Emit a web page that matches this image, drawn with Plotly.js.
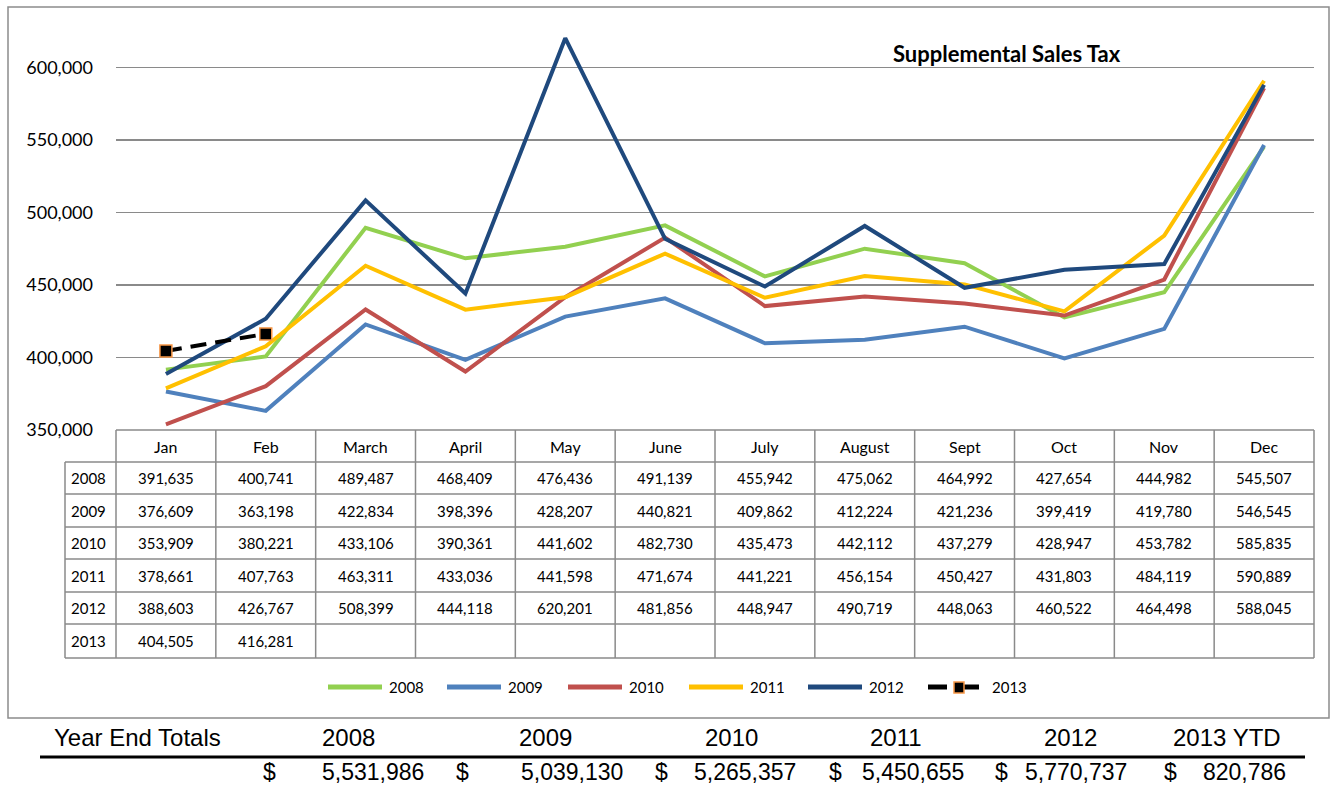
<!DOCTYPE html>
<html>
<head>
<meta charset="utf-8">
<script src="https://cdn.plot.ly/plotly-3.0.1.min.js"></script>
<style>
  html, body { margin: 0; padding: 0; background: #ffffff; }
  #chart { width: 1337px; height: 786px; }
</style>
</head>
<body>
<div id="chart"></div>
<script>
// Monthly supplemental sales tax receipts
const months = ['Jan', 'Feb', 'March', 'April', 'May', 'June', 'July', 'August', 'Sept', 'Oct', 'Nov', 'Dec'];
const years = ['2008', '2009', '2010', '2011', '2012', '2013'];
const totalLabels = ['2008', '2009', '2010', '2011', '2012', '2013 YTD'];

const sales2008 = [391635, 400741, 489487, 468409, 476436, 491139, 455942, 475062, 464992, 427654, 444982, 545507];
const sales2009 = [376609, 363198, 422834, 398396, 428207, 440821, 409862, 412224, 421236, 399419, 419780, 546545];
const sales2010 = [353909, 380221, 433106, 390361, 441602, 482730, 435473, 442112, 437279, 428947, 453782, 585835];
const sales2011 = [378661, 407763, 463311, 433036, 441598, 471674, 441221, 456154, 450427, 431803, 484119, 590889];
const sales2012 = [388603, 426767, 508399, 444118, 620201, 481856, 448947, 490719, 448063, 460522, 464498, 588045];
const sales2013 = [404505, 416281];

// Year end totals as booked (unrounded monthly amounts)
const yearEndTotals = [5531986, 5039130, 5265357, 5450655, 5770737, 820786];

const seriesValues = [sales2008, sales2009, sales2010, sales2011, sales2012, sales2013];
const seriesColors = ['#92D050', '#4F81BD', '#C0504D', '#FFC000', '#1F497D', '#000000'];
const markerBorder = '#F79646';

// Figure geometry (pixels); paper spans x 65..1314, y 32..658
const W = 1337, H = 786;
const PL = 65, PR = 1314, PT = 32, PB = 658;
const px = v => (v - PL) / (PR - PL);
const py = v => (PB - v) / (PB - PT);

const fmt = v => v.toLocaleString('en-US');
const gridGray = '#8A8A8A';
const bodyFont = 'Lato, "Open Sans", sans-serif';

// Line traces
const traces = seriesValues.map((vals, i) => {
  const t = {
    type: 'scatter',
    x: months.slice(0, vals.length),
    y: vals,
    name: years[i],
    mode: 'lines',
    line: { color: seriesColors[i], width: 4 },
    hoverinfo: 'skip',
    showlegend: false
  };
  if (i === 5) {
    t.mode = 'lines+markers';
    t.line = { color: '#000000', width: 4, dash: '16px,9px' };
    t.marker = { symbol: 'square', size: 12, color: '#000000', line: { color: markerBorder, width: 1.5 } };
  }
  return t;
});

const shapes = [];
const annotations = [];

// Outer chart frame
shapes.push({ type: 'rect', xref: 'paper', yref: 'paper', x0: px(8), x1: px(1329), y0: py(7), y1: py(718),
  line: { color: '#8C8C8C', width: 1.5 }, fillcolor: 'rgba(0,0,0,0)' });

// Data table grid
const colLeft = 116, colW = (1314 - 116) / 12;
const rowLines = [430, 462, 494, 527, 559, 592, 624, 658];
rowLines.forEach((y, k) => {
  shapes.push({ type: 'line', xref: 'paper', yref: 'paper', x0: px(k === 0 ? colLeft : 65), x1: px(1314), y0: py(y), y1: py(y),
    line: { color: gridGray, width: 1.5 } });
});
for (let k = 0; k <= 12; k++) {
  const x = colLeft + k * colW;
  shapes.push({ type: 'line', xref: 'paper', yref: 'paper', x0: px(x), x1: px(x), y0: py(430), y1: py(658),
    line: { color: gridGray, width: 1.5 } });
}
shapes.push({ type: 'line', xref: 'paper', yref: 'paper', x0: px(65), x1: px(65), y0: py(462), y1: py(658),
  line: { color: gridGray, width: 1.5 } });

// Month headers
months.forEach((m) => {
  annotations.push({ xref: 'x', yref: 'paper', x: m, y: py(446), text: m, showarrow: false,
    font: { family: bodyFont, size: 16, color: '#000' }, xanchor: 'center', yanchor: 'middle' });
});

// Table body: year label + values
seriesValues.forEach((vals, r) => {
  const yc = py((rowLines[r + 1] + rowLines[r + 2]) / 2);
  annotations.push({ xref: 'paper', yref: 'paper', x: px(88), y: yc, text: years[r], showarrow: false,
    font: { family: bodyFont, size: 15, color: '#000' }, xanchor: 'center', yanchor: 'middle' });
  vals.forEach((v, c) => {
    annotations.push({ xref: 'x', yref: 'paper', x: months[c], y: yc, text: fmt(v), showarrow: false,
      font: { family: bodyFont, size: 15, color: '#000' }, xanchor: 'center', yanchor: 'middle' });
  });
});

// Title
annotations.push({ xref: 'paper', yref: 'paper', x: px(1007), y: py(53), text: '<b>Supplemental Sales Tax</b>',
  showarrow: false, font: { family: bodyFont, size: 22, color: '#000' }, xanchor: 'center', yanchor: 'middle' });

// Legend (drawn manually so the keys have the long line samples)
const legendStart = [328, 447, 568, 689, 808, 928];
const legendY = py(687);
years.forEach((yr, i) => {
  const x0 = legendStart[i];
  const x1 = x0 + (i === 5 ? 51 : 54);
  if (i === 5) {
    shapes.push({ type: 'line', xref: 'paper', yref: 'paper', x0: px(x0), x1: px(x0 + 19), y0: legendY, y1: legendY,
      line: { color: '#000', width: 5 } });
    shapes.push({ type: 'line', xref: 'paper', yref: 'paper', x0: px(x0 + 35), x1: px(x1), y0: legendY, y1: legendY,
      line: { color: '#000', width: 5 } });
    shapes.push({ type: 'rect', xref: 'paper', yref: 'paper', x0: px(x0 + 26), x1: px(x0 + 36), y0: py(693), y1: py(682),
      fillcolor: '#000', line: { color: markerBorder, width: 1.5 } });
  } else {
    shapes.push({ type: 'line', xref: 'paper', yref: 'paper', x0: px(x0), x1: px(x1), y0: legendY, y1: legendY,
      line: { color: seriesColors[i], width: 5 } });
  }
  annotations.push({ xref: 'paper', yref: 'paper', x: px(x1 + (i === 5 ? 11 : 5)), y: legendY, text: yr, showarrow: false,
    font: { family: bodyFont, size: 15, color: '#000' }, xanchor: 'left', yanchor: 'middle' });
});

// Year end totals below the chart
const headFont = { family: '"Liberation Sans", Arial, sans-serif', size: 24, color: '#000' };
const totalFont = { family: '"Liberation Sans", Arial, sans-serif', size: 23, color: '#000' };
annotations.push({ xref: 'paper', yref: 'paper', x: px(52), y: py(738), text: 'Year End Totals', showarrow: false,
  font: headFont, xanchor: 'left', yanchor: 'middle' });
const labelCenters = [348, 545, 731, 896, 1070, 1227];
const dollarCenters = [269, 462, 661, 835, 1001, 1170];
const amountRight = [425, 624, 797, 965, 1128, 1287];
totalLabels.forEach((lab, i) => {
  annotations.push({ xref: 'paper', yref: 'paper', x: px(labelCenters[i]), y: py(738), text: lab, showarrow: false,
    font: headFont, xanchor: 'center', yanchor: 'middle' });
  annotations.push({ xref: 'paper', yref: 'paper', x: px(dollarCenters[i]), y: py(771.5), text: '$', showarrow: false,
    font: totalFont, xanchor: 'center', yanchor: 'middle', borderpad: 0 });
  annotations.push({ xref: 'paper', yref: 'paper', x: px(amountRight[i]), y: py(771.5), text: fmt(yearEndTotals[i]), showarrow: false,
    font: totalFont, xanchor: 'right', yanchor: 'middle', borderpad: 0 });
});
shapes.push({ type: 'line', xref: 'paper', yref: 'paper', x0: px(40), x1: px(1305), y0: py(757), y1: py(757),
  line: { color: '#000', width: 3 } });

const layout = {
  width: W,
  height: H,
  margin: { l: PL, r: W - PR, t: PT, b: H - PB, pad: 0 },
  paper_bgcolor: '#ffffff',
  plot_bgcolor: '#ffffff',
  showlegend: false,
  xaxis: {
    type: 'category',
    categoryarray: months,
    domain: [px(colLeft), 1],
    range: [-0.5, 11.5],
    showgrid: false,
    showline: false,
    zeroline: false,
    showticklabels: false,
    ticks: '',
    fixedrange: true
  },
  yaxis: {
    domain: [py(430), 1],
    range: [350000, 624500],
    tickvals: [350000, 400000, 450000, 500000, 550000, 600000],
    tickformat: ',d',
    showgrid: true,
    gridcolor: gridGray,
    gridwidth: 1.5,
    showline: false,
    zeroline: false,
    ticks: '',
    ticklabelstandoff: 22,
    tickfont: { family: bodyFont, size: 18, color: '#000' },
    automargin: false,
    fixedrange: true
  },
  shapes: shapes,
  annotations: annotations
};

Plotly.newPlot('chart', traces, layout, { displayModeBar: false, staticPlot: true });
</script>
</body>
</html>
